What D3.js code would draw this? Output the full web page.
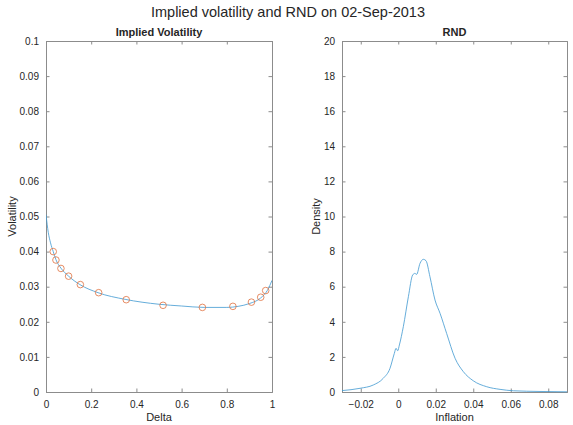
<!DOCTYPE html>
<html>
<head>
<meta charset="utf-8">
<script src="https://cdn.jsdelivr.net/npm/d3@7"></script>
<style>
  body { margin: 0; background: #fff; }
  text { font-family: "Liberation Sans", Arial, sans-serif; fill: #262626; }
</style>
</head>
<body>
<div id="chart-area"></div>
<script>
// implied vol fit (line) and observed quotes (circles)
const fitDelta = [0, 0.01, 0.02, 0.032, 0.044, 0.066, 0.1, 0.15, 0.23, 0.35, 0.5, 0.6, 0.7, 0.8, 0.85, 0.9, 0.95, 0.98, 1.0];
const fitVol   = [0.0505, 0.0455, 0.0425, 0.0400, 0.0377, 0.0353, 0.0330, 0.0306, 0.0283, 0.0264, 0.0250, 0.0245, 0.0241, 0.0241, 0.0244, 0.0252, 0.0268, 0.0290, 0.0318];
const obsDelta = [0.032, 0.044, 0.066, 0.100, 0.152, 0.233, 0.355, 0.518, 0.692, 0.827, 0.909, 0.950, 0.972];
const obsVol   = [0.0400, 0.0376, 0.0352, 0.0330, 0.0306, 0.0283, 0.0263, 0.0247, 0.0241, 0.0244, 0.0256, 0.0270, 0.0289];

// risk neutral density
const inflation = [-0.03, -0.0204, -0.0133, -0.008, -0.0044, -0.0021, -0.0012, -0.0003, 0.0006, 0.0027, 0.0054, 0.0077, 0.0089, 0.0098, 0.0116, 0.0134, 0.0148, 0.0169, 0.0196, 0.0223, 0.0258, 0.0303, 0.0347, 0.0400, 0.0472, 0.0543, 0.0614, 0.0756, 0.09];
const density   = [0.08, 0.21, 0.40, 0.78, 1.35, 2.2, 2.49, 2.35, 2.68, 3.72, 5.43, 6.67, 6.76, 6.7, 7.33, 7.56, 7.48, 6.57, 5.24, 4.48, 3.34, 1.92, 1.16, 0.64, 0.30, 0.15, 0.07, 0.03, 0.01];

const volTicks = d3.range(0, 0.1001, 0.01);
const deltaTicks = [0, 0.2, 0.4, 0.6, 0.8, 1];
const densTicks = d3.range(0, 21, 2);
const inflTicks = [-0.02, 0, 0.02, 0.04, 0.06, 0.08];

const W = 573, H = 425;
const plotTop = 41, plotBottom = 392;

const svg = d3.select('#chart-area')
  .append('svg')
  .attr('width', W)
  .attr('height', H);

svg.append('text')
  .attr('x', 288).attr('y', 17)
  .attr('text-anchor', 'middle')
  .style('font-size', '14.5px')
  .text('Implied volatility and RND on 02-Sep-2013');

function panel(opt) {
  const x = d3.scaleLinear().domain(opt.xdom).range([opt.left, opt.right]);
  const y = d3.scaleLinear().domain(opt.ydom).range([plotBottom, plotTop]);
  const g = svg.append('g');

  const fmt = d => (Math.abs(d) < 1e-9 ? '0' : d3.format('~g')(+d.toFixed(4)));

  // axes with inward ticks
  const tl = 3.5;
  g.append('g').attr('transform', `translate(0,${plotBottom})`)
    .call(d3.axisBottom(x).tickValues(opt.xticks).tickSize(-tl).tickPadding(9).tickFormat(fmt));
  g.append('g').attr('transform', `translate(0,${plotTop})`)
    .call(d3.axisTop(x).tickValues(opt.xticks).tickSize(-tl).tickFormat(''));
  g.append('g').attr('transform', `translate(${opt.left},0)`)
    .call(d3.axisLeft(y).tickValues(opt.yticks).tickSize(-tl).tickPadding(7).tickFormat(fmt));
  g.append('g').attr('transform', `translate(${opt.right},0)`)
    .call(d3.axisRight(y).tickValues(opt.yticks).tickSize(-tl).tickFormat(''));

  g.selectAll('.domain').attr('stroke', '#8c8c8c');
  g.selectAll('.tick line').attr('stroke', '#8c8c8c');
  g.selectAll('.tick text').style('font-size', '10px').attr('fill', '#333')
    .style('font-family', '"Liberation Sans", Arial, sans-serif');

  g.append('text')
    .attr('x', (opt.left + opt.right) / 2).attr('y', 36)
    .attr('text-anchor', 'middle')
    .style('font-size', '11px').style('font-weight', 'bold')
    .text(opt.title);
  g.append('text')
    .attr('x', (opt.left + opt.right) / 2).attr('y', 421)
    .attr('text-anchor', 'middle')
    .style('font-size', '11px')
    .text(opt.xlabel);
  g.append('text')
    .attr('transform', `translate(${opt.ylabelX},${(plotTop + plotBottom) / 2}) rotate(-90)`)
    .attr('text-anchor', 'middle')
    .style('font-size', '11px')
    .text(opt.ylabel);

  return { g, x, y };
}

// left: implied volatility
const p1 = panel({
  left: 46, right: 272, xdom: [0, 1], ydom: [0, 0.1],
  xticks: deltaTicks, yticks: volTicks,
  title: 'Implied Volatility', xlabel: 'Delta', ylabel: 'Volatility', ylabelX: 16
});

svg.append('clipPath').attr('id', 'c1').append('rect')
  .attr('x', 46).attr('y', plotTop).attr('width', 226).attr('height', plotBottom - plotTop);

p1.g.append('path')
  .datum(fitDelta.map((d, i) => [d, fitVol[i]]))
  .attr('clip-path', 'url(#c1)')
  .attr('fill', 'none')
  .attr('stroke', '#3f98d0')
  .attr('stroke-width', 0.8)
  .attr('d', d3.line().x(d => p1.x(d[0])).y(d => p1.y(d[1])).curve(d3.curveMonotoneX));

p1.g.selectAll('circle.obs')
  .data(obsDelta.map((d, i) => [d, obsVol[i]]))
  .enter().append('circle')
  .attr('class', 'obs')
  .attr('cx', d => p1.x(d[0]))
  .attr('cy', d => p1.y(d[1]))
  .attr('r', 3.3)
  .attr('fill', 'none')
  .attr('stroke', '#e0703e')
  .attr('stroke-width', 0.8);

// right: RND
const p2 = panel({
  left: 342, right: 567, xdom: [-0.03, 0.09], ydom: [0, 20],
  xticks: inflTicks, yticks: densTicks,
  title: 'RND', xlabel: 'Inflation', ylabel: 'Density', ylabelX: 320
});

p2.g.append('path')
  .datum(inflation.map((d, i) => [d, density[i]]))
  .attr('fill', 'none')
  .attr('stroke', '#3f98d0')
  .attr('stroke-width', 0.8)
  .attr('d', d3.line().x(d => p2.x(d[0])).y(d => p2.y(d[1])).curve(d3.curveMonotoneX));
</script>
</body>
</html>
